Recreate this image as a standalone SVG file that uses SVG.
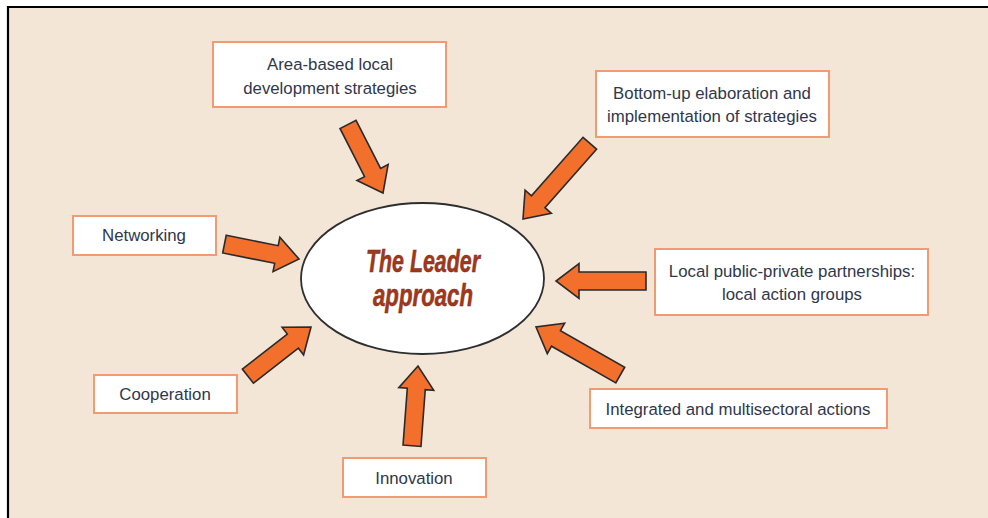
<svg xmlns="http://www.w3.org/2000/svg" width="988" height="518" viewBox="0 0 988 518">
<style>
.box{fill:#ffffff;stroke:#f29a72;stroke-width:2}
.lbl{font-family:"Liberation Sans",Arial,sans-serif;font-size:16.8px;fill:#30374b;text-anchor:middle}
.arr{fill:#f2702c;stroke:#2a2a2a;stroke-width:1.6;stroke-linejoin:miter}
.title{font-family:"Liberation Sans",Arial,sans-serif;font-size:31px;font-weight:bold;font-style:italic;fill:#a1381c;stroke:#7a2a14;stroke-width:0.5;text-anchor:middle}
</style>
<rect x="0" y="0" width="988" height="518" fill="#ffffff"/>
<rect x="8" y="7" width="980" height="511" fill="#f3e6d6"/>
<path d="M8,518 V7 H988" fill="none" stroke="#000000" stroke-width="2.2"/>

<g id="connectors">
<path class="arr" transform="translate(383,193) rotate(63)" d="M-77,-9 H-23 V-17.5 L0,0 L-23,17.5 V9 H-77 Z"/>
<path class="arr" transform="translate(523,219) rotate(131.4)" d="M-101,-9 H-23 V-17.5 L0,0 L-23,17.5 V9 H-101 Z"/>
<path class="arr" transform="translate(299,259) rotate(11.3)" d="M-76,-9 H-23 V-17.5 L0,0 L-23,17.5 V9 H-76 Z"/>
<path class="arr" transform="translate(556,281) rotate(180)" d="M-90,-9 H-23 V-17.5 L0,0 L-23,17.5 V9 H-90 Z"/>
<path class="arr" transform="translate(311,327) rotate(-37.9)" d="M-80,-9 H-23 V-17.5 L0,0 L-23,17.5 V9 H-80 Z"/>
<path class="arr" transform="translate(536,327) rotate(209.7)" d="M-97,-9 H-23 V-17.5 L0,0 L-23,17.5 V9 H-97 Z"/>
<path class="arr" transform="translate(418,366) rotate(-85.7)" d="M-80,-9 H-23 V-17.5 L0,0 L-23,17.5 V9 H-80 Z"/>
</g>

<g id="center">
<ellipse cx="422.5" cy="278.5" rx="121.5" ry="75.5" fill="#ffffff" stroke="#2e2e2e" stroke-width="1.8"/>
<text class="title" x="423" y="272" textLength="114" lengthAdjust="spacingAndGlyphs">The Leader</text>
<text class="title" x="423" y="306" textLength="100" lengthAdjust="spacingAndGlyphs">approach</text>
</g>

<g id="area">
<rect class="box" x="213" y="42" width="233" height="65"/>
<text class="lbl" x="330" y="70">Area-based local</text>
<text class="lbl" x="330" y="94">development strategies</text>
</g>

<g id="bottomup">
<rect class="box" x="596" y="71" width="233" height="66"/>
<text class="lbl" x="712" y="99">Bottom-up elaboration and</text>
<text class="lbl" x="712" y="122">implementation of strategies</text>
</g>

<g id="networking">
<rect class="box" x="73" y="216" width="143" height="39"/>
<text class="lbl" x="144" y="241">Networking</text>
</g>

<g id="partnerships">
<rect class="box" x="655" y="249" width="273" height="66"/>
<text class="lbl" x="792" y="277">Local public-private partnerships:</text>
<text class="lbl" x="792" y="300">local action groups</text>
</g>

<g id="cooperation">
<rect class="box" x="94" y="375" width="143" height="38"/>
<text class="lbl" x="165" y="400">Cooperation</text>
</g>

<g id="integrated">
<rect class="box" x="590" y="389" width="297" height="39"/>
<text class="lbl" x="738" y="415">Integrated and multisectoral actions</text>
</g>

<g id="innovation">
<rect class="box" x="343" y="458" width="143" height="39"/>
<text class="lbl" x="414" y="484">Innovation</text>
</g>
</svg>
